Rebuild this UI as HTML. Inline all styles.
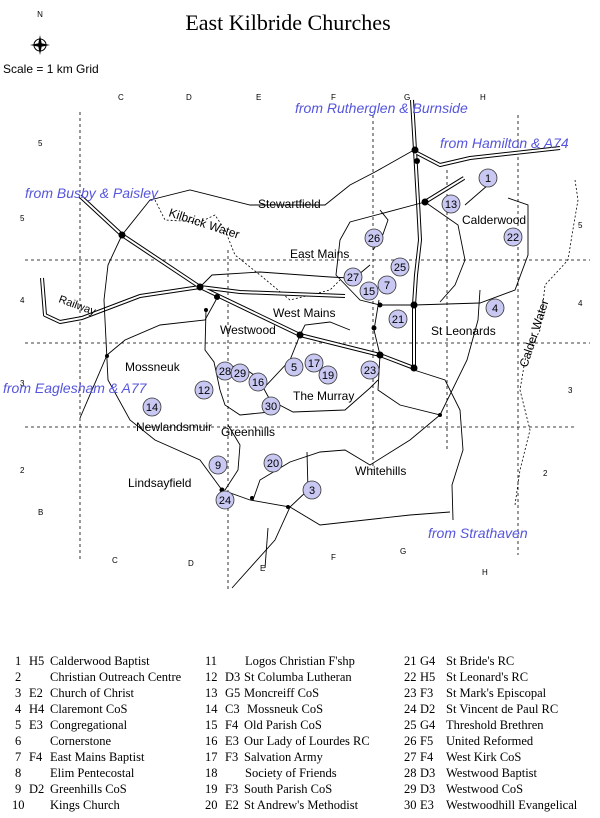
<!DOCTYPE html>
<html><head><style>
body{margin:0;background:#fff;width:600px;height:818px;overflow:hidden}
svg{display:block}
.s{font-family:"Liberation Sans",sans-serif;font-size:12px;fill:#000}
.b{font-family:"Liberation Sans",sans-serif;font-size:14px;font-style:italic;fill:#5555dd}
.g{font-family:"Liberation Sans",sans-serif;font-size:8px;fill:#000}
.l{font-family:"Liberation Serif",serif;font-size:12.5px;fill:#000}
.n{font-family:"Liberation Sans",sans-serif;font-size:11px;fill:#000;text-anchor:middle}
</style></head><body>
<svg width="600" height="818" viewBox="0 0 600 818">
<text x="288" y="30" text-anchor="middle" font-family="Liberation Serif,serif" font-size="22">East Kilbride Churches</text>
<text x="40" y="17" class="g" text-anchor="middle">N</text>
<circle cx="40" cy="45" r="6" fill="none" stroke="#000"/>
<path d="M40 35 L42 45 L40 55 L38 45Z M30 45 L40 43 L50 45 L40 47Z" fill="#000"/>
<text x="3" y="73" class="s" font-size="11">Scale = 1 km Grid</text>
<g class="g">
<text x="118" y="100">C</text><text x="186" y="100">D</text><text x="256" y="100">E</text><text x="331" y="100">F</text><text x="404" y="100">G</text><text x="480" y="100">H</text>
<text x="112" y="563">C</text><text x="188" y="566">D</text><text x="260" y="571">E</text><text x="331" y="560">F</text><text x="400" y="554">G</text><text x="482" y="575">H</text>
<text x="38" y="146">5</text><text x="20" y="221">5</text><text x="20" y="303">4</text><text x="20" y="386">3</text><text x="20" y="473">2</text><text x="38" y="515">B</text>
<text x="578" y="228">5</text><text x="578" y="306">4</text><text x="568" y="393">3</text><text x="543" y="476">2</text>
</g>
<g stroke="#000" stroke-dasharray="3,3" stroke-width="0.8" fill="none">
<path d="M80 112V560M228 250V590M373 115V470M447 170V450M518 115V555"/>
<path d="M25 260H590M25 343H590M25 427H575"/>
</g>
<!-- streams -->
<g stroke="#000" stroke-dasharray="2,2" stroke-width="0.8" fill="none">
<path d="M155 200 L165 220 L200 222 L215 215 L225 230 L235 255 L260 275 L290 300 L330 290 L340 280"/>
<path d="M575 180 L578 200 L572 235 L568 260 L545 285 L540 330 L525 360 L520 390 L530 430 L520 470 L515 505"/>
</g>
<!-- double roads -->
<g fill="none" stroke-linejoin="round">
<g stroke="#000" stroke-width="4">
<path d="M412 100 L415 150 L418 202 L420 240 L416 275 L414 305 L414 370"/>
<path d="M80 196 L122 235 L200 287 L300 335 L380 355 L414 368"/>
<path d="M415 152 L440 165 L470 158 L560 148"/>
<path d="M464 178 L425 202"/>
<path d="M42 278 L45 315 L60 322 L82 318 L140 296 L200 287 L240 292 L345 296"/>
</g>
<g stroke="#fff" stroke-width="2">
<path d="M412 100 L415 150 L418 202 L420 240 L416 275 L414 305 L414 370"/>
<path d="M80 196 L122 235 L200 287 L300 335 L380 355 L414 368"/>
<path d="M415 152 L440 165 L470 158 L560 148"/>
<path d="M464 178 L425 202"/>
<path d="M42 278 L45 315 L60 322 L82 318 L140 296 L200 287 L240 292 L345 296"/>
</g>
</g>
<!-- single roads -->
<g fill="none" stroke="#000" stroke-width="0.9">
<path d="M122 235 L150 200 L190 190 L250 205 L325 205 L350 185 L375 172 L414 150"/>
<path d="M425 202 L350 222 L340 240 L336 275 L360 300 L380 305 L414 305 L480 303 L515 290 L528 255 L528 205 L508 198"/>
<path d="M425 202 L458 225 L465 260 L455 285 L440 302"/>
<path d="M465 205 L488 185"/>
<path d="M122 235 L108 265 L104 300 L108 380 L130 420 L155 440 L200 460 L222 490 L250 500 L290 507 L320 525 L410 515 L450 512"/>
<path d="M453 520 L452 485 L463 450 L460 410 L445 380 L414 370"/>
<path d="M440 415 L467 360 L478 320 L480 290"/>
<path d="M200 287 L212 275 L260 272 L330 277 L350 278"/>
<path d="M107 355 L125 340 L160 325 L205 320 L216 300"/>
<path d="M80 418 L107 355"/>
<path d="M206 310 L205 350 L214 362 L220 390 L225 405 L240 415 L270 412"/>
<path d="M300 335 L290 360 L262 390"/>
<path d="M300 335 L305 325 L330 322 L350 330"/>
<path d="M380 355 L378 390 L400 405 L440 415 L410 440 L370 465 L345 450 L320 452 L290 462 L260 480 L253 500"/>
<path d="M307 452 L308 490 L290 507 L275 540 L232 588"/>
<path d="M268 528 L265 568"/>
<path d="M228 425 L240 445 L238 470 L225 490"/>
<path d="M218 370 L240 365 L258 378 L270 400"/>
<path d="M270 400 L293 412 L345 410 L370 388 L378 380"/>
<path d="M380 355 L374 330 L379 300"/>
<path d="M373 250 L382 237 L388 220 L380 210"/>
<path d="M352 280 L370 265"/>
</g>
<g fill="#000">
<circle cx="122" cy="235" r="3.5"/><circle cx="200" cy="287" r="3.5"/><circle cx="217" cy="297" r="3"/><circle cx="206" cy="310" r="2"/>
<circle cx="300" cy="335" r="3.5"/><circle cx="380" cy="355" r="3.5"/><circle cx="414" cy="368" r="3.5"/><circle cx="414" cy="305" r="3.5"/>
<circle cx="425" cy="202" r="3.5"/><circle cx="415" cy="150" r="3.5"/><circle cx="417" cy="161" r="3"/><circle cx="107" cy="356" r="2"/>
<circle cx="380" cy="305" r="2.5"/><circle cx="374" cy="328" r="2.5"/><circle cx="440" cy="415" r="2"/><circle cx="222" cy="490" r="2.5"/>
<circle cx="252" cy="498" r="2"/><circle cx="288" cy="507" r="2"/>
</g>
<!-- place names -->
<g class="s">
<text x="258" y="208">Stewartfield</text>
<text x="168" y="216" transform="rotate(18 168 216)">Kilbrick Water</text>
<text x="290" y="258">East Mains</text>
<text x="462" y="224">Calderwood</text>
<text x="58" y="302" transform="rotate(20 58 302)" font-size="11">Railway</text>
<text x="273" y="317">West Mains</text>
<text x="220" y="334">Westwood</text>
<text x="431" y="335">St Leonards</text>
<text x="125" y="371">Mossneuk</text>
<text x="293" y="400">The Murray</text>
<text x="136" y="431">Newlandsmuir</text>
<text x="221" y="436">Greenhills</text>
<text x="355" y="475">Whitehills</text>
<text x="128" y="487">Lindsayfield</text>
<text x="527" y="368" transform="rotate(-72 527 368)">Calder Water</text>
</g>
<g class="b">
<text x="295" y="113">from Rutherglen &amp; Burnside</text>
<text x="440" y="148">from Hamilton &amp; A74</text>
<text x="25" y="198">from Busby &amp; Paisley</text>
<text x="3" y="393">from Eaglesham &amp; A77</text>
<text x="428" y="538">from Strathaven</text>
</g>
<!-- churches -->
<g fill="#c8c8f2" stroke="#333" stroke-width="0.8">
<circle cx="488" cy="178" r="9"/><circle cx="451" cy="204" r="9"/><circle cx="513" cy="237" r="9"/><circle cx="374" cy="238" r="9"/>
<circle cx="400" cy="267" r="9"/><circle cx="353" cy="277" r="9"/><circle cx="387" cy="285" r="9"/><circle cx="369" cy="291" r="9"/>
<circle cx="398" cy="319" r="9"/><circle cx="495" cy="308" r="9"/><circle cx="294" cy="367" r="9"/><circle cx="314" cy="363" r="9"/>
<circle cx="328" cy="375" r="9"/><circle cx="370" cy="370" r="9"/><circle cx="225" cy="371" r="9"/><circle cx="240" cy="373" r="9"/>
<circle cx="258" cy="382" r="9"/><circle cx="204" cy="390" r="9"/><circle cx="152" cy="407" r="9"/><circle cx="271" cy="406" r="9"/>
<circle cx="218" cy="465" r="9"/><circle cx="273" cy="463" r="9"/><circle cx="312" cy="490" r="9"/><circle cx="225" cy="500" r="9"/>
</g>
<g class="n">
<text x="488" y="182">1</text><text x="451" y="208">13</text><text x="513" y="241">22</text><text x="374" y="242">26</text>
<text x="400" y="271">25</text><text x="353" y="281">27</text><text x="387" y="289">7</text><text x="369" y="295">15</text>
<text x="398" y="323">21</text><text x="495" y="312">4</text><text x="294" y="371">5</text><text x="314" y="367">17</text>
<text x="328" y="379">19</text><text x="370" y="374">23</text><text x="225" y="375">28</text><text x="240" y="377">29</text>
<text x="258" y="386">16</text><text x="204" y="394">12</text><text x="152" y="411">14</text><text x="271" y="410">30</text>
<text x="218" y="469">9</text><text x="273" y="467">20</text><text x="312" y="494">3</text><text x="225" y="504">24</text>
</g>
<!-- legend -->
<g class="l">
<text x="15" y="665">1</text><text x="29" y="665">H5</text><text x="50" y="665">Calderwood Baptist</text>
<text x="15" y="681">2</text><text x="50" y="681">Christian Outreach Centre</text>
<text x="15" y="697">3</text><text x="29" y="697">E2</text><text x="50" y="697">Church of Christ</text>
<text x="15" y="713">4</text><text x="29" y="713">H4</text><text x="50" y="713">Claremont CoS</text>
<text x="15" y="729">5</text><text x="29" y="729">E3</text><text x="50" y="729">Congregational</text>
<text x="15" y="745">6</text><text x="50" y="745">Cornerstone</text>
<text x="15" y="761">7</text><text x="29" y="761">F4</text><text x="50" y="761">East Mains Baptist</text>
<text x="15" y="777">8</text><text x="50" y="777">Elim Pentecostal</text>
<text x="15" y="793">9</text><text x="29" y="793">D2</text><text x="50" y="793">Greenhills CoS</text>
<text x="12" y="809">10</text><text x="50" y="809">Kings Church</text>

<text x="205" y="665">11</text><text x="245" y="665">Logos Christian F'shp</text>
<text x="205" y="681">12</text><text x="225" y="681">D3</text><text x="244" y="681">St Columba Lutheran</text>
<text x="205" y="697">13</text><text x="225" y="697">G5</text><text x="244" y="697">Moncreiff CoS</text>
<text x="205" y="713">14</text><text x="225" y="713">C3</text><text x="247" y="713">Mossneuk CoS</text>
<text x="205" y="729">15</text><text x="225" y="729">F4</text><text x="244" y="729">Old Parish CoS</text>
<text x="205" y="745">16</text><text x="225" y="745">E3</text><text x="244" y="745">Our Lady of Lourdes RC</text>
<text x="205" y="761">17</text><text x="225" y="761">F3</text><text x="244" y="761">Salvation Army</text>
<text x="205" y="777">18</text><text x="245" y="777">Society of Friends</text>
<text x="205" y="793">19</text><text x="225" y="793">F3</text><text x="244" y="793">South Parish CoS</text>
<text x="205" y="809">20</text><text x="225" y="809">E2</text><text x="244" y="809">St Andrew's Methodist</text>

<text x="404" y="665">21</text><text x="420" y="665">G4</text><text x="446" y="665">St Bride's RC</text>
<text x="404" y="681">22</text><text x="420" y="681">H5</text><text x="446" y="681">St Leonard's RC</text>
<text x="404" y="697">23</text><text x="420" y="697">F3</text><text x="446" y="697">St Mark's Episcopal</text>
<text x="404" y="713">24</text><text x="420" y="713">D2</text><text x="446" y="713">St Vincent de Paul RC</text>
<text x="404" y="729">25</text><text x="420" y="729">G4</text><text x="446" y="729">Threshold Brethren</text>
<text x="404" y="745">26</text><text x="420" y="745">F5</text><text x="446" y="745">United Reformed</text>
<text x="404" y="761">27</text><text x="420" y="761">F4</text><text x="446" y="761">West Kirk CoS</text>
<text x="404" y="777">28</text><text x="420" y="777">D3</text><text x="446" y="777">Westwood Baptist</text>
<text x="404" y="793">29</text><text x="420" y="793">D3</text><text x="446" y="793">Westwood CoS</text>
<text x="404" y="809">30</text><text x="420" y="809">E3</text><text x="446" y="809">Westwoodhill Evangelical</text>
</g>
</svg>
</body></html>
